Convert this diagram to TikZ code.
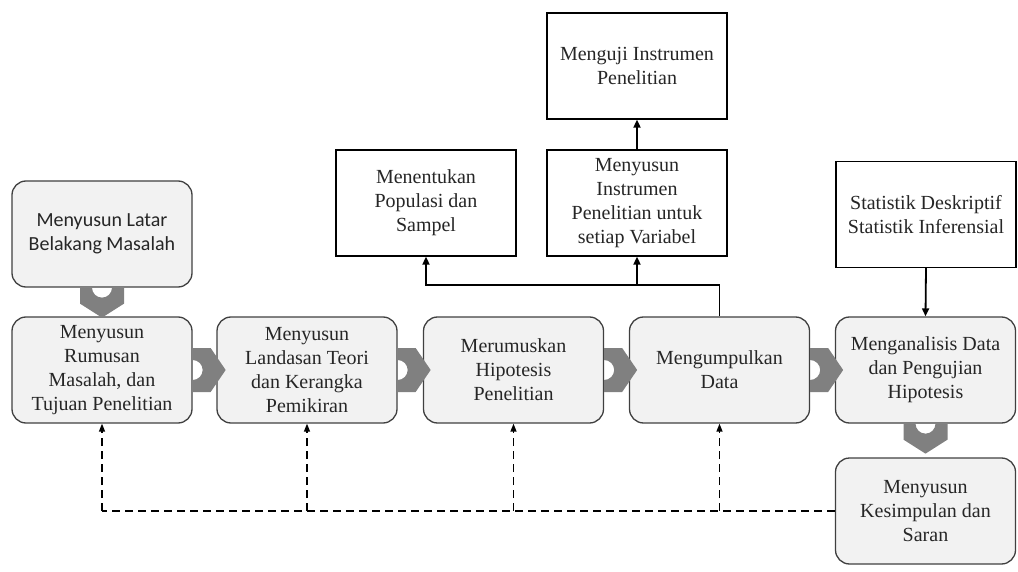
\documentclass[tikz,border=0pt]{standalone}
\usepackage{fontspec}
\setmainfont{Liberation Serif}
\newfontfamily\calfont{Carlito}
\usetikzlibrary{arrows.meta}

\begin{document}
\begin{tikzpicture}[x=1pt,y=-1pt]
    \tikzstyle{tahap}=[draw=black!75, fill=black!5, rounded corners=14pt, line width=1.3pt,
      minimum width=180pt, minimum height=106pt, align=center, text=black!85,
      font=\fontsize{20}{24}\selectfont]
    \tikzstyle{kotak}=[draw=black, fill=white, line width=1.3pt,
      minimum width=180pt, minimum height=106pt, align=center, text=black!85,
      font=\fontsize{20}{24}\selectfont]
    \tikzstyle{gear}=[fill=black!50]
    \tikzstyle{panah}=[line width=1.8pt, -{Triangle[length=8pt,width=7pt]}]
    \tikzstyle{balik}=[line width=1.4pt, dash pattern=on 8pt off 5pt, -{Triangle[length=8pt,width=6pt]}]
    \useasboundingbox (0,0) rectangle (1018,572);
    % alur utama
    \node[tahap, font=\calfont\fontsize{20}{24}\selectfont] (b0) at (102,234) {Menyusun Latar\\Belakang Masalah};
    \node[tahap] (b1) at (102,370) {Menyusun\\Rumusan\\Masalah, dan\\Tujuan Penelitian};
    \node[tahap] (b2) at (307,370) {Menyusun\\Landasan Teori\\dan Kerangka\\Pemikiran};
    \node[tahap] (b3) at (513.5,370) {Merumuskan\\Hipotesis\\Penelitian};
    \node[tahap] (b4) at (719.5,370) {Mengumpulkan\\Data};
    \node[tahap] (b5) at (925.5,370) {Menganalisis Data\\dan Pengujian\\Hipotesis};
    \node[tahap] (b6) at (925.5,511) {Menyusun\\Kesimpulan dan\\Saran};
    % kotak pendukung
    \node[kotak] (pop) at (426,203) {Menentukan\\Populasi dan\\Sampel};
    \node[kotak] (inst) at (637,203) {Menyusun\\Instrumen\\Penelitian untuk\\setiap Variabel};
    \node[kotak] (uji) at (637,66) {Menguji Instrumen\\Penelitian};
    \node[kotak] (stat) at (926,214.5) {Statistik Deskriptif\\Statistik Inferensial};
    % penghubung gear
    \foreach \a in {b1,b2,b3,b4}
      \fill[gear] (\a.east) ++(0,-22) -- ++(18,0) -- ++(15,22) -- ++(-15,22) -- ++(-18,0)
        -- ++(0,-12) arc(90:-90:10) -- cycle;
    \foreach \a in {b0,b5}
      \fill[gear] (\a.south) ++(-22,0) -- ++(0,16) -- ++(22,14) -- ++(22,-14) -- ++(0,-16)
        -- ++(-12,0) arc(0:180:10) -- cycle;
    % panah
    \coordinate (j) at (719.5,285);
    \draw[panah] (b4.north) -- (j) -| (pop.south);
    \draw[panah] (j -| inst.south) -- (inst.south);
    \draw[panah] (inst.north) -- (uji.south);
    \draw[panah] (stat.south) -- (b5.north);
    % umpan balik
    \draw[line width=1.4pt, dash pattern=on 8pt off 5pt] (b6.west) -- (b1.south |- b6.west);
    \foreach \k in {b1,b2,b3,b4}
      \draw[balik] (\k.south |- b6.west) -- (\k.south);
\end{tikzpicture}
\end{document}
